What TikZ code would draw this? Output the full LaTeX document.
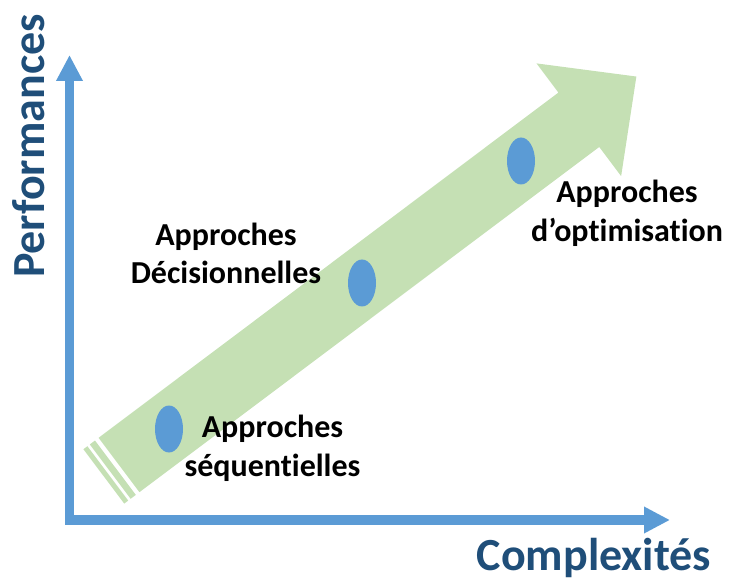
\documentclass[tikz,border=0pt]{standalone}
\usepackage{fontspec}
\setmainfont{Carlito}[Ligatures=NoCommon]
\usepackage{xcolor}
\usetikzlibrary{arrows.meta,shapes.geometric}
\definecolor{axisblue}{HTML}{5B9BD5}
\definecolor{labelblue}{HTML}{1F4E79}
\definecolor{arrowgreen}{HTML}{C5E0B4}

\begin{document}
\begin{tikzpicture}[x=1pt,y=1pt]
    \tikzstyle{every node}+=[inner sep=0pt]
    \tikzstyle{axis}=[draw=axisblue, line width=9.5pt, line join=miter, arrows={Triangle[width=25pt,length=26pt]-Triangle[width=25pt,length=26pt]}]
    \tikzstyle{stage}=[ellipse, fill=axisblue, minimum width=28pt, minimum height=47pt]
    \tikzstyle{approach}=[align=center, anchor=base, font=\bfseries\fontsize{32}{39}\selectfont]
    \tikzstyle{axislabel}=[text=labelblue, anchor=base, font=\bfseries\fontsize{46}{50}\selectfont]
    \useasboundingbox (0,0) rectangle (729,-580);
    \begin{scope}[shift={(119,-465)}, rotate=36.9]
        \fill [arrowgreen] (0,-34) -- (575,-34) -- (575,-70.5) -- (647,0) -- (575,70.5) -- (575,34) -- (0,34) -- cycle;
        \fill [arrowgreen] (-4.5,-34) rectangle (-11,34);
        \fill [arrowgreen] (-14,-34) rectangle (-19,34);
    \end{scope}
    \coordinate (origin) at (69.5,-520);
    \coordinate (ymax) at (69.5,-55);
    \coordinate (xmax) at (670,-520);
    \draw [axis] (ymax) -- (origin) -- (xmax);
    \node [stage] (seqdot) at (169,-429) {};
    \node [stage] (decdot) at (362,-283) {};
    \node [stage] (optdot) at (521,-161) {};
    \node [approach] (seq) at (272.5,-476) {Approches\\séquentielles};
    \node [approach] (dec) at (226,-284) {Approches\\Décisionnelles};
    \node [approach] (opt) at (627,-242) {Approches\\d’optimisation};
    \node [axislabel] (xlabel) at (594,-570) {Complexités};
    \node [axislabel, rotate=90] (ylabel) at (45,-146) {Performances};
\end{tikzpicture}
\end{document}
